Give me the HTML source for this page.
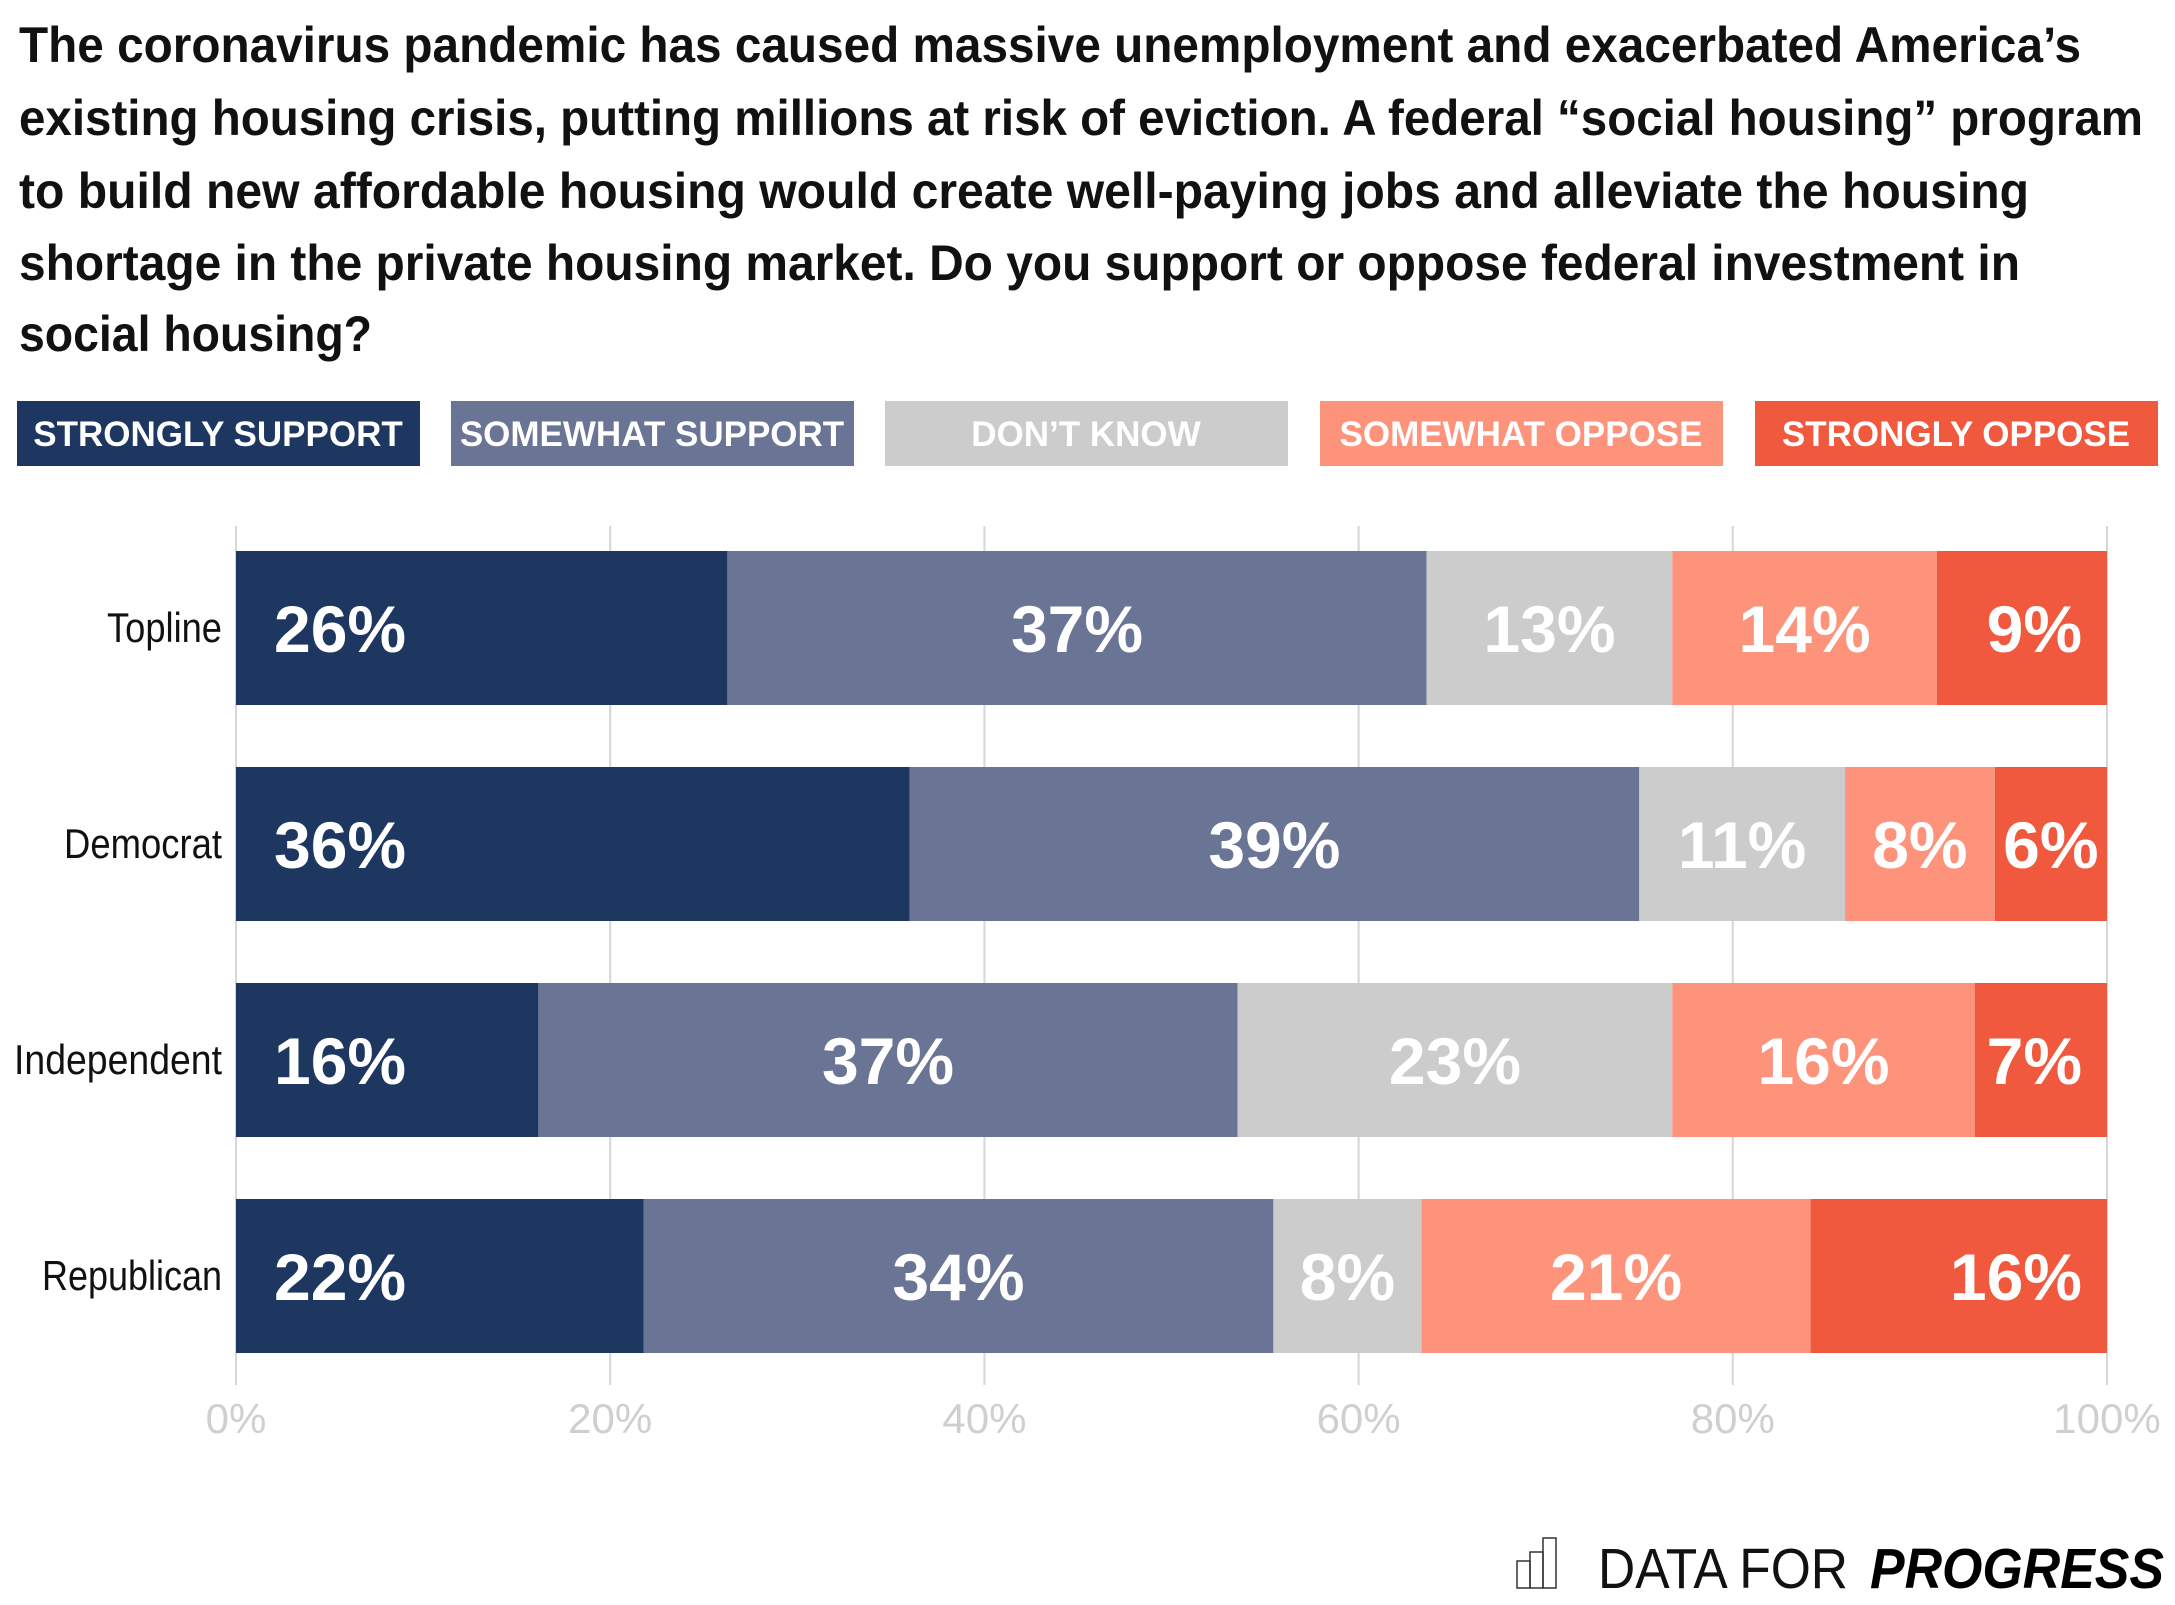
<!DOCTYPE html>
<html><head><meta charset="utf-8"><style>
html,body{margin:0;padding:0;background:#fff;}
svg{display:block;}
text{font-family:"Liberation Sans",sans-serif;}
</style></head><body>
<svg id="chart" width="2175" height="1605" viewBox="0 0 2175 1605" xmlns="http://www.w3.org/2000/svg">
<g font-weight="bold" font-size="50" fill="#111">
<text x="19" y="62" textLength="2062" lengthAdjust="spacingAndGlyphs">The coronavirus pandemic has caused massive unemployment and exacerbated America’s</text>
<text x="19" y="135" textLength="2124" lengthAdjust="spacingAndGlyphs">existing housing crisis, putting millions at risk of eviction. A federal “social housing” program</text>
<text x="19" y="208" textLength="2010" lengthAdjust="spacingAndGlyphs">to build new affordable housing would create well-paying jobs and alleviate the housing</text>
<text x="19" y="280" textLength="2001" lengthAdjust="spacingAndGlyphs">shortage in the private housing market. Do you support or oppose federal investment in</text>
<text x="19" y="351" textLength="353" lengthAdjust="spacingAndGlyphs">social housing?</text>
</g>
<g id="legend"></g>
<g id="grid"></g>
<g id="bars"></g>
<g id="xaxis"></g>
<g id="yaxis"></g>
<g>
<g fill="none" stroke="#333" stroke-width="1.5">
<rect x="1517" y="1561" width="13" height="27"/><rect x="1530" y="1552" width="13" height="36"/><rect x="1543" y="1538" width="13" height="50"/>
</g>
<text x="1598" y="1588" font-size="57" fill="#111" font-weight="normal" textLength="250" lengthAdjust="spacingAndGlyphs">DATA FOR</text>
<text x="1870" y="1588" font-size="57" fill="#000" font-weight="bold" font-style="italic" textLength="294" lengthAdjust="spacingAndGlyphs">PROGRESS</text>
</g>
</svg>
<script>
const categories = ["Topline","Democrat","Independent","Republican"];
const seriesNames = ["STRONGLY SUPPORT","SOMEWHAT SUPPORT","DON’T KNOW","SOMEWHAT OPPOSE","STRONGLY OPPOSE"];
const strongSupport = [26,36,16,22];
const somewhatSupport = [37,39,37,34];
const dontKnow = [13,11,23,8];
const somewhatOppose = [14,8,16,21];
const strongOppose = [9,6,7,16];
const tickValues = [0,20,40,60,80,100];
const tickLabels = ["0%","20%","40%","60%","80%","100%"];

const colors = ["#1d3761","#6a7494","#cccccc","#fe937b","#f0593e"];
const series = [strongSupport,somewhatSupport,dontKnow,somewhatOppose,strongOppose];
const labelWidths = {"Topline":115,"Democrat":158,"Independent":208,"Republican":180};
const NS = "http://www.w3.org/2000/svg";
const X0 = 236, X1 = 2107;
const xScale = v => X0 + (X1 - X0) * v / 100;
const yTop = i => 551 + i * 216;
const BH = 154;
function mk(tag, attrs, parent){const e=document.createElementNS(NS,tag);for(const k in attrs)e.setAttribute(k,attrs[k]);parent.appendChild(e);return e;}

const legend = document.getElementById('legend');
const legX = [17,451,885,1320,1755];
seriesNames.forEach((n,i)=>{
  const r = mk('rect',{x:legX[i],y:401,width:403,height:65,fill:colors[i]},legend);
  
  
  const t = mk('text',{x:legX[i]+201,y:446,'text-anchor':'middle','font-size':35,'font-weight':'bold',fill:'#fff'},legend);
  t.textContent = n;
  
  
});

const grid = document.getElementById('grid'), xaxis = document.getElementById('xaxis');
tickValues.forEach((v,i)=>{
  const l = mk('line',{x1:xScale(v),x2:xScale(v),y1:526,y2:1385,stroke:'#d6d6d6','stroke-width':2},grid);
  
  
  const t = mk('text',{x:xScale(v),y:1433,'text-anchor':'middle','font-size':42,fill:'#cfcfcf'},xaxis);
  t.textContent = tickLabels[i];
  
  
});

const bars = document.getElementById('bars'), yaxis = document.getElementById('yaxis');
categories.forEach((c,ci)=>{
  const vals = series.map(s=>s[ci]);
  const total = vals.reduce((a,b)=>a+b,0);
  let cum = 0;
  const y = yTop(ci);
  const lw = labelWidths[c];
  const t = mk('text',{x:222-lw,y:y+BH/2+14,'font-size':42,fill:'#111',textLength:lw,lengthAdjust:'spacingAndGlyphs'},yaxis);
  t.textContent = c;
  
  
  vals.forEach((v,si)=>{
    const xa = xScale(cum/total*100), xb = xScale((cum+v)/total*100);
    cum += v;
    const r = mk('rect',{x:xa,y:y,width:xb-xa,height:BH,fill:colors[si]},bars);
    
    
    const label = v+'%';
    const tw = label.length*36;
    let anchor='middle', lx=(xa+xb)/2;
    if(si===0){anchor='start'; lx=xa+38;}
    else if(si===4 && (xb-xa) > tw+50){anchor='end'; lx=xb-25;}
    const vt = mk('text',{x:lx,y:y+BH/2+24,'text-anchor':anchor,'font-size':66,'font-weight':'bold',fill:'#fff'},bars);
    vt.textContent = label;
    
    
  });
});
</script>
</body></html>
